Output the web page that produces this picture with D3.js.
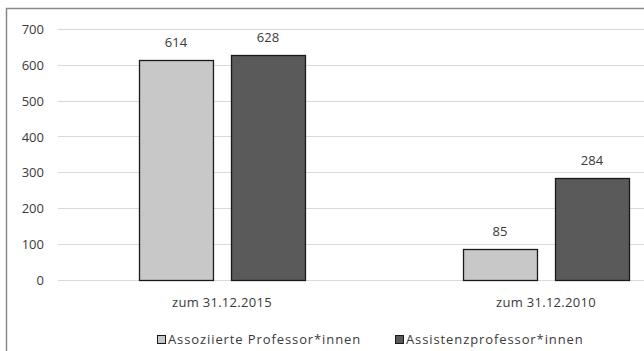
<!DOCTYPE html>
<html>
<head>
<meta charset="utf-8">
<script src="https://cdn.jsdelivr.net/npm/d3@7"></script>
<style>
  html, body { margin: 0; padding: 0; background: #fff; }
  svg { display: block; }
  text { font-family: "Open Sans", "Noto Sans", sans-serif; fill: #3a3a3a; }
</style>
</head>
<body>
<svg id="chart" width="644" height="351"></svg>
<script>
// Stichtage (Kategorien)
const categories = ["zum 31.12.2015", "zum 31.12.2010"];
// Reihen
const seriesNames = ["Assoziierte Professor*innen", "Assistenzprofessor*innen"];
const associateValues = [614, 85];
const assistantValues = [628, 284];
const yTicks = [0, 100, 200, 300, 400, 500, 600, 700];

const seriesColors = ["#c8c8c8", "#5a5a5a"];
const values = [associateValues, assistantValues];

const svg = d3.select("#chart");
const W = 644, H = 351;

// Rahmen (links und oben sichtbar)
svg.append("path")
  .attr("d", `M6.5,${H} V8.5 H${W}`)
  .attr("fill", "none")
  .attr("stroke", "#8a8a8a")
  .attr("stroke-width", 1.5);

const y = d3.scaleLinear().domain([0, 700]).range([279.5, 29]);

const x0 = d3.scaleBand()
  .domain(categories)
  .range([60, 708])
  .paddingInner(0.4877)
  .paddingOuter(0.2438);

const x1 = d3.scaleBand()
  .domain(d3.range(seriesNames.length))
  .range([0, x0.bandwidth()])
  .paddingInner(0.196)
  .paddingOuter(0);

// Gitterlinien
svg.append("g")
  .selectAll("line")
  .data(yTicks)
  .join("line")
  .attr("x1", 58).attr("x2", W)
  .attr("y1", d => Math.round(y(d)) + 0.5)
  .attr("y2", d => Math.round(y(d)) + 0.5)
  .attr("stroke", "#d9d9d9")
  .attr("stroke-width", 1);

// y-Achse
const yAxis = d3.axisLeft(y).tickValues(yTicks).tickSize(0).tickPadding(0);
const gy = svg.append("g").attr("transform", "translate(44,0)").call(yAxis);
gy.select(".domain").remove();
gy.selectAll("text")
  .attr("font-size", 13)
  .attr("font-family", "'Open Sans', 'Noto Sans', sans-serif")
  .attr("fill", "#3a3a3a")
  .attr("dy", "0.36em");

// Balken
const groups = svg.append("g")
  .selectAll("g")
  .data(categories)
  .join("g")
  .attr("transform", d => `translate(${x0(d)},0)`);

groups.selectAll("rect")
  .data((c, ci) => values.map((v, si) => ({ si, v: v[ci] })))
  .join("rect")
  .attr("x", d => Math.round(x1(d.si)) + 0.5)
  .attr("y", d => Math.round(y(d.v)) + 0.5)
  .attr("width", x1.bandwidth())
  .attr("height", d => Math.round(y(0)) - Math.round(y(d.v)))
  .attr("fill", d => seriesColors[d.si])
  .attr("stroke", "#1a1a1a")
  .attr("stroke-width", 1.3);

// Wertebeschriftungen
groups.selectAll("text.val")
  .data((c, ci) => values.map((v, si) => ({ si, v: v[ci] })))
  .join("text")
  .attr("class", "val")
  .attr("x", d => x1(d.si) + x1.bandwidth() / 2)
  .attr("y", d => y(d.v) - 13)
  .attr("text-anchor", "middle")
  .attr("font-size", 13)
  .text(d => d.v);

// x-Achse (Kategorien)
const xAxis = d3.axisBottom(x0).tickSize(0).tickPadding(0);
const gx = svg.append("g").attr("transform", "translate(0,295)").call(xAxis);
gx.select(".domain").remove();
gx.selectAll("text")
  .attr("font-size", 13)
  .attr("font-family", "'Open Sans', 'Noto Sans', sans-serif")
  .attr("fill", "#3a3a3a")
  .attr("letter-spacing", "0.3px")
  .attr("dy", "0.95em");

// Legende
const legendX = [157, 395];
const legend = svg.append("g")
  .selectAll("g")
  .data(seriesNames)
  .join("g")
  .attr("transform", (d, i) => `translate(${legendX[i]},335)`);
legend.append("rect")
  .attr("x", 0.5).attr("y", 0.5)
  .attr("width", 8).attr("height", 8)
  .attr("fill", (d, i) => seriesColors[i])
  .attr("stroke", "#1a1a1a")
  .attr("stroke-width", 1);
legend.append("text")
  .attr("x", 11)
  .attr("y", 9)
  .attr("font-size", 13)
  .attr("letter-spacing", "0.9px")
  .text(d => d);
</script>
</body>
</html>
